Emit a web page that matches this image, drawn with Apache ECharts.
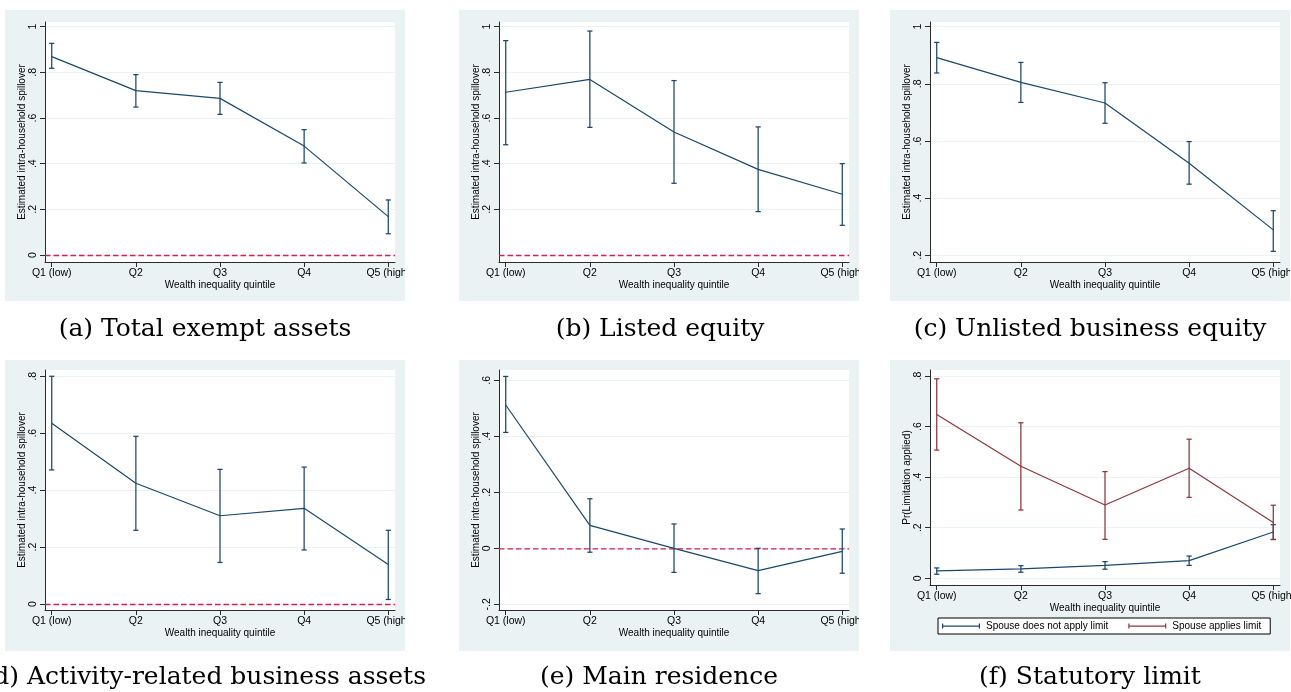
<!DOCTYPE html>
<html><head><meta charset="utf-8">
<script src="https://cdn.jsdelivr.net/npm/echarts@6/dist/echarts.min.js"></script>
<style>html,body{margin:0;padding:0;background:#fff}#c{width:1291px;height:692px}</style>
</head><body><div id="c"></div>
<script>
// ---------- data ----------
const categories = ['Q1 (low)', 'Q2', 'Q3', 'Q4', 'Q5 (high)'];
const xTitle = 'Wealth inequality quintile';
const yTitleSpill = 'Estimated intra-household spillover';
const yTitleLimit = 'Pr(Limitation applied)';

const yTicksA = [0, 0.2, 0.4, 0.6, 0.8, 1];
const yTicksB = [0.2, 0.4, 0.6, 0.8, 1];
const yTicksC = [0.2, 0.4, 0.6, 0.8, 1];
const yTicksD = [0, 0.2, 0.4, 0.6, 0.8];
const yTicksE = [-0.2, 0, 0.2, 0.4, 0.6];
const yTicksF = [0, 0.2, 0.4, 0.6, 0.8];
const zeroRef = [0];

// (a) Total exempt assets
const totalEst = [0.869, 0.720, 0.686, 0.477, 0.168];
const totalLo  = [0.818, 0.648, 0.616, 0.403, 0.093];
const totalHi  = [0.927, 0.790, 0.756, 0.549, 0.241];
// (b) Listed equity
const listedEst = [0.713, 0.769, 0.539, 0.375, 0.266];
const listedLo  = [0.483, 0.559, 0.314, 0.190, 0.130];
const listedHi  = [0.939, 0.981, 0.764, 0.561, 0.400];
// (c) Unlisted business equity
const unlistedEst = [0.892, 0.805, 0.733, 0.522, 0.289];
const unlistedLo  = [0.838, 0.735, 0.662, 0.449, 0.214];
const unlistedHi  = [0.945, 0.875, 0.804, 0.598, 0.356];
// (d) Activity-related business assets
const activityEst = [0.635, 0.424, 0.310, 0.336, 0.139];
const activityLo  = [0.471, 0.259, 0.146, 0.190, 0.016];
const activityHi  = [0.800, 0.589, 0.473, 0.481, 0.259];
// (e) Main residence
const residenceEst = [0.512, 0.082, 0.000, -0.080, -0.011];
const residenceLo  = [0.414, -0.014, -0.086, -0.162, -0.089];
const residenceHi  = [0.614, 0.177, 0.087, 0.000, 0.069];
// (f) Statutory limit
const noApplyName = 'Spouse does not apply limit';
const noApplyEst = [0.029, 0.037, 0.051, 0.070, 0.183];
const noApplyLo  = [0.016, 0.024, 0.036, 0.051, 0.154];
const noApplyHi  = [0.041, 0.050, 0.066, 0.088, 0.212];
const appliesName = 'Spouse applies limit';
const appliesEst = [0.648, 0.443, 0.290, 0.435, 0.221];
const appliesLo  = [0.507, 0.270, 0.154, 0.320, 0.153];
const appliesHi  = [0.789, 0.615, 0.422, 0.550, 0.289];

const captions = ['(a) Total exempt assets', '(b) Listed equity', '(c) Unlisted business equity',
                  '(d) Activity-related business assets', '(e) Main residence', '(f) Statutory limit'];

// ---------- layout / style ----------
const NAVY = '#1a476f', MAROON = '#90353b', ZERO = '#d81e4a', BG = '#eaf2f3', AXIS = '#2b2b2b';
const SANS = 'Liberation Sans, Arial, sans-serif';
const SERIF = 'DejaVu Serif, serif';

const panels = [
  {bg:[5,10,400,291],   grid:{left:45, top:22, width:350, height:240},  yMin:-0.0307, yMax:1.0206, ticks:yTicksA, yTitle:yTitleSpill, zero:true,
   series:[{name:'a', est:totalEst, lo:totalLo, hi:totalHi, color:NAVY}], cap:{x:205, y:329, align:'center'}},
  {bg:[459,10,400,291], grid:{left:499, top:22, width:350, height:240}, yMin:-0.0307, yMax:1.0206, ticks:yTicksB, yTitle:yTitleSpill, zero:true,
   series:[{name:'b', est:listedEst, lo:listedLo, hi:listedHi, color:NAVY}], cap:{x:660, y:329, align:'center'}},
  {bg:[890,10,400,291], grid:{left:930, top:22, width:350, height:240}, yMin:0.1766, yMax:1.0164, ticks:yTicksC, yTitle:yTitleSpill, zero:false,
   series:[{name:'c', est:unlistedEst, lo:unlistedLo, hi:unlistedHi, color:NAVY}], cap:{x:1090, y:329, align:'center'}},
  {bg:[5,360,400,291],  grid:{left:45, top:370, width:350, height:240}, yMin:-0.021, yMax:0.822, ticks:yTicksD, yTitle:yTitleSpill, zero:true,
   series:[{name:'d', est:activityEst, lo:activityLo, hi:activityHi, color:NAVY}], cap:{x:426, y:677, align:'right'}},
  {bg:[459,360,400,291],grid:{left:499, top:370, width:350, height:240}, yMin:-0.2204, yMax:0.637, ticks:yTicksE, yTitle:yTitleSpill, zero:true,
   series:[{name:'e', est:residenceEst, lo:residenceLo, hi:residenceHi, color:NAVY}], cap:{x:659, y:677, align:'center'}},
  {bg:[890,360,400,291],grid:{left:930, top:370, width:350, height:215}, yMin:-0.0265, yMax:0.8237, ticks:yTicksF, yTitle:yTitleLimit, zero:false,
   series:[{name:noApplyName, est:noApplyEst, lo:noApplyLo, hi:noApplyHi, color:NAVY},
           {name:appliesName, est:appliesEst, lo:appliesLo, hi:appliesHi, color:MAROON}], cap:{x:1090, y:677, align:'center'}}
];

const xPos = categories.map((_, i) => i + 1);
const fmtY = v => { const s = String(Math.round(v * 10) / 10); return s.replace(/^(-?)0\./, '$1.'); };
const fmtX = v => categories[Math.round(v) - 1] || '';

function errRender(params, api) {
  const x = api.value(0);
  const pLo = api.coord([x, api.value(1)]);
  const pHi = api.coord([x, api.value(2)]);
  const w = 2.6;
  const style = {stroke: api.visual('color'), lineWidth: 1.25, fill: null};
  return {type: 'group', children: [
    {type: 'line', shape: {x1: pLo[0], y1: pLo[1], x2: pHi[0], y2: pHi[1]}, style},
    {type: 'line', shape: {x1: pLo[0] - w, y1: pLo[1], x2: pLo[0] + w, y2: pLo[1]}, style},
    {type: 'line', shape: {x1: pHi[0] - w, y1: pHi[1], x2: pHi[0] + w, y2: pHi[1]}, style}
  ]};
}
// horizontal dashed reference line across the whole plot width, positioned by the library's scales
function refRender(params, api) {
  const cs = params.coordSys;
  const p = api.coord([1, api.value(0)]);
  return {type: 'line', shape: {x1: cs.x, y1: p[1] + 0.5, x2: cs.x + cs.width, y2: p[1] + 0.5},
    style: {stroke: ZERO, lineWidth: 1.35, lineDash: [5.5, 3], fill: null}};
}

const grids = [], xAxes = [], yAxes = [], series = [], graphics = [];
panels.forEach((p, i) => {
  grids.push(Object.assign({show: true, backgroundColor: '#fff', borderWidth: 0, containLabel: false, outerBoundsMode: 'none'}, p.grid));
  xAxes.push({
    type: 'value', gridIndex: i, min: 0.92, max: 5.08,
    name: xTitle, nameLocation: 'middle', nameGap: 17,
    nameTextStyle: {fontFamily: SANS, fontSize: 10, color: '#000'},
    axisLine: {show: true, onZero: false, lineStyle: {color: AXIS, width: 1}},
    axisTick: {show: true, length: 5, customValues: xPos, lineStyle: {color: AXIS}},
    axisLabel: {customValues: xPos, formatter: fmtX, margin: 6, fontFamily: SANS, fontSize: 10.5, color: '#000'},
    splitLine: {show: false}
  });
  yAxes.push({
    type: 'value', gridIndex: i, min: p.yMin, max: p.yMax,
    name: p.yTitle, nameLocation: 'middle', nameGap: 18, nameRotate: 90,
    nameTextStyle: {fontFamily: SANS, fontSize: 10, color: '#000'},
    axisLine: {show: true, onZero: false, lineStyle: {color: AXIS, width: 1}},
    axisTick: {show: true, length: 5, customValues: p.ticks, lineStyle: {color: AXIS}},
    axisLabel: {customValues: p.ticks, formatter: fmtY, rotate: 90, margin: 6, fontFamily: SANS, fontSize: 10.5, color: '#000'},
    splitLine: {show: true, lineStyle: {color: BG, width: 1}}
  });
  if (p.zero) {
    series.push({type: 'custom', name: 'zero' + i, xAxisIndex: i, yAxisIndex: i, silent: true, z: 2,
      renderItem: refRender, encode: {y: 0}, data: zeroRef.map(v => [v])});
  }
  p.series.forEach((s, k) => {
    series.push({
      type: 'custom', name: s.name + ' CI', xAxisIndex: i, yAxisIndex: i,
      renderItem: errRender, itemStyle: {color: s.color},
      encode: {x: 0, y: [1, 2]}, silent: true, z: 3,
      data: xPos.map((x, j) => [x, s.lo[j], s.hi[j]])
    });
    series.push({
      type: 'line', name: s.name, xAxisIndex: i, yAxisIndex: i,
      showSymbol: false, symbol: 'none', silent: true, z: 4,
      lineStyle: {color: s.color, width: 1.2}, itemStyle: {color: s.color},
      data: xPos.map((x, j) => [x, s.est[j]])
    });
  });
  graphics.push({type: 'rect', z: -10, shape: {x: p.bg[0], y: p.bg[1], width: p.bg[2], height: p.bg[3]}, style: {fill: BG}});
  graphics.push({type: 'text', z: 10, x: p.cap.x, y: p.cap.y,
    style: {text: captions[i], font: '25px ' + SERIF, fill: '#000', textAlign: p.cap.align, textVerticalAlign: 'middle'}});
});
// covers that clip the overflowing last tick label at the panel edge (as in the original)
[[405, 54], [859, 31], [1290, 10]].forEach(r => {
  graphics.push({type: 'rect', z: 50, shape: {x: r[0], y: 262, width: r[1], height: 30}, style: {fill: '#fff'}});
  graphics.push({type: 'rect', z: 50, shape: {x: r[0], y: 611, width: r[1], height: 22}, style: {fill: '#fff'}});
});

const legendIcon = 'path://M0,2.5h38v1.2h-38z M0,0.5h1.2v5h-1.2z M36.8,0.5h1.2v5h-1.2z';
const option = {
  animation: false,
  backgroundColor: '#fff',
  grid: grids, xAxis: xAxes, yAxis: yAxes, series: series,
  legend: {
    left: 938, top: 618, orient: 'horizontal',
    data: [{name: noApplyName, icon: legendIcon}, {name: appliesName, icon: legendIcon}],
    itemWidth: 38, itemHeight: 6, itemGap: 20, padding: [3, 9, 3, 4],
    borderColor: '#000', borderWidth: 1, backgroundColor: '#fff', selectedMode: false,
    textStyle: {fontFamily: SANS, fontSize: 10, color: '#000', padding: [0, 0, 0, 1]}
  },
  graphic: graphics
};
const chart = echarts.init(document.getElementById('c'), null, {renderer: 'canvas'});
chart.setOption(option);
</script></body></html>
